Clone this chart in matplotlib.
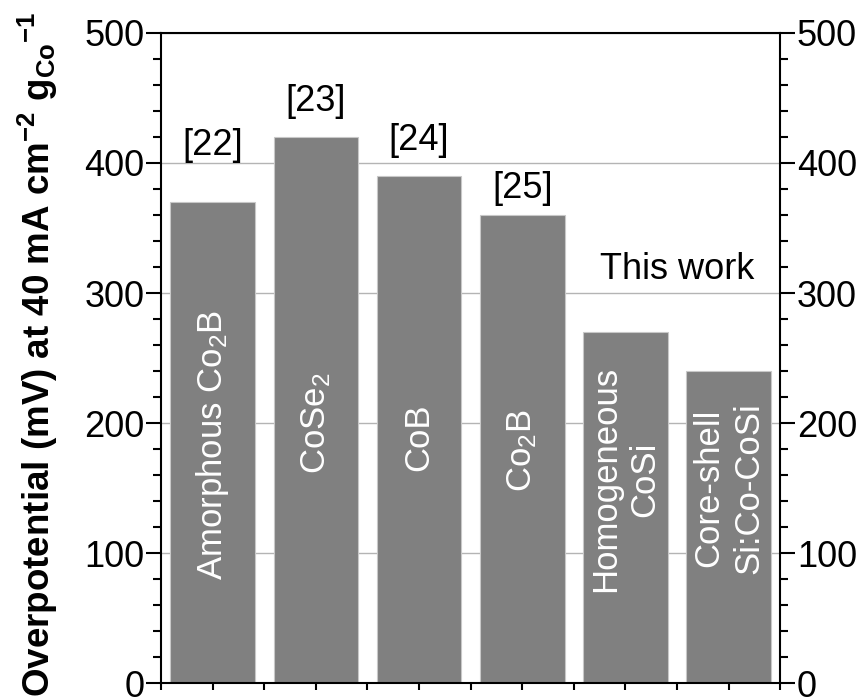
import matplotlib
matplotlib.use('Agg')
import matplotlib.pyplot as plt
from matplotlib.ticker import MultipleLocator
import numpy as np

plt.rcParams['font.family'] = ['Liberation Sans', 'DejaVu Sans']
plt.rcParams['mathtext.fontset'] = 'custom'
plt.rcParams['mathtext.rm'] = 'Liberation Sans'
plt.rcParams['mathtext.it'] = 'Liberation Sans:italic'
plt.rcParams['mathtext.bf'] = 'Liberation Sans:bold'

# data
materials = ['Amorphous Co$_2$B', 'CoSe$_2$', 'CoB', 'Co$_2$B',
             'Homogeneous\nCoSi', 'Core-shell\nSi:Co-CoSi']
overpotential = [370, 420, 390, 360, 270, 240]
refs = ['[22]', '[23]', '[24]', '[25]']
ref_label_y = [400, 434, 404, 367]
inner_label_y = [183, 200, 189, 179, 157, 150]

fig = plt.figure(figsize=(8.66, 6.97), dpi=100)
ax = fig.add_axes([0.186, 0.020, 0.715, 0.9327])

x = np.arange(1, len(materials) + 1)
ax.bar(x, overpotential, width=0.82, color='#808080', edgecolor='#c8c8c8',
       linewidth=0.8, zorder=2)

for xi, name, yy in zip(x, materials, inner_label_y):
    ax.text(xi, yy, name, rotation=90, ha='center', va='center',
            multialignment='center', color='white', fontsize=25,
            linespacing=1.25, zorder=3)

for xi, r, yy in zip(x, refs, ref_label_y):
    ax.text(xi, yy, r, ha='center', va='bottom', fontsize=26, zorder=3)
ax.text(5.5, 305, 'This work', ha='center', va='bottom', fontsize=26, zorder=3)

ax.set_xlim(0.5, 6.5)
ax.set_ylim(0, 500)
ax.yaxis.set_major_locator(MultipleLocator(100))
ax.yaxis.set_minor_locator(MultipleLocator(20))
ax.set_xticks(np.arange(0.5, 6.6, 0.5))
ax.set_xticklabels([])
ax.grid(axis='y', color='#b4b4b4', linewidth=1.0, zorder=0)
ax.set_axisbelow(True)

for sp in ax.spines.values():
    sp.set_linewidth(1.5)

ax.tick_params(axis='y', which='major', direction='out', length=11, width=1.5,
               labelsize=26, pad=1, left=True, right=True,
               labelleft=True, labelright=True)
ax.tick_params(axis='y', which='minor', direction='out', length=6, width=1.5,
               left=True, right=True)
ax.tick_params(axis='x', which='major', direction='out', length=5, width=1.5,
               bottom=True, top=False)

ax.set_ylabel(r'Overpotential (mV) at 40 mA cm$^{\mathbf{-2}}$ g$_{\mathbf{Co}}$$^{\mathbf{-1}}$',
              fontsize=26.5, fontweight='bold')
ax.yaxis.set_label_coords(-0.163, 0.505)

fig.savefig('out.png', dpi=100)
